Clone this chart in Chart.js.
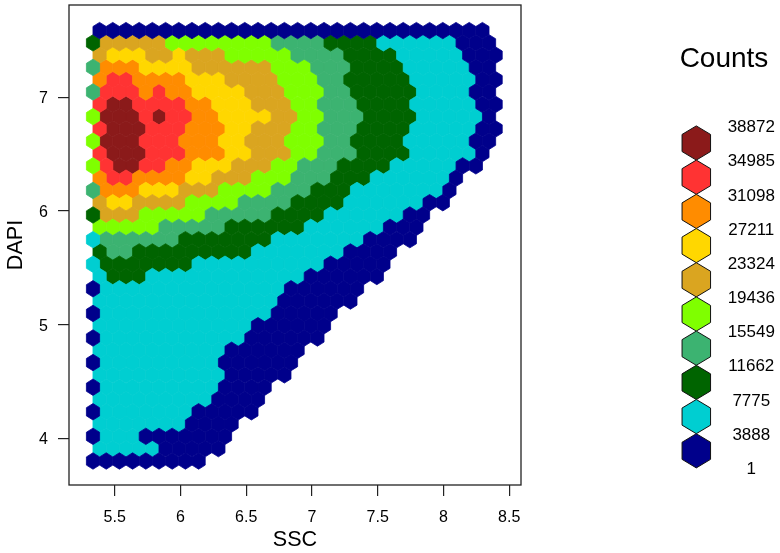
<!DOCTYPE html>
<html>
<head>
<meta charset="utf-8">
<style>
  html, body { margin: 0; padding: 0; background: #fff; }
  canvas { display: block; }
</style>
<script src="https://cdn.jsdelivr.net/npm/chart.js@4"></script>
</head>
<body>
<canvas id="hexChart" width="780" height="553"></canvas>
<script>
// legend, highest count first
const countLabels = ["38872", "34985", "31098", "27211", "23324", "19436", "15549", "11662", "7775", "3888", "1"];
const levelColors = ["#00008B", "#00CED1", "#006400", "#3CB371", "#7FFF00", "#DAA520", "#FFD700", "#FF8C00", "#FF3333", "#8B1A1A"];

const sscTicks = [5.5, 6, 6.5, 7, 7.5, 8, 8.5];
const dapiTicks = [4, 5, 6, 7];

// DAPI of each hexagon row, top to bottom
const dapiRows = [
  7.587, 7.479, 7.371, 7.263, 7.155, 7.047, 6.938, 6.83, 6.722, 6.614, 6.506, 6.397,
  6.289, 6.181, 6.073, 5.965, 5.857, 5.748, 5.64, 5.532, 5.424, 5.316, 5.208, 5.099,
  4.991, 4.883, 4.775, 4.667, 4.559, 4.45, 4.342, 4.234, 4.126, 4.018, 3.91, 3.801
];
// SSC of the first hexagon in long and offset rows, and the bin width
const sscFirstLong = 5.335;
const sscFirstOffset = 5.385;
const sscStep = 0.1004;

const rowRuns = [
  [[0,30]],
  [[2,1],[5,5],[4,8],[3,4],[2,4],[1,6],[0,3]],
  [[5,1],[6,3],[5,2],[6,1],[5,3],[4,5],[3,4],[2,4],[1,5],[0,3]],
  [[3,1],[7,3],[6,4],[5,6],[4,3],[3,3],[2,4],[1,5],[0,2]],
  [[7,1],[8,2],[7,4],[6,3],[5,4],[4,3],[3,2],[2,5],[1,5],[0,2]],
  [[3,1],[8,3],[7,1],[8,1],[7,2],[6,4],[5,3],[4,3],[3,2],[2,5],[1,4],[0,2]],
  [[8,1],[9,2],[8,4],[7,2],[6,3],[5,3],[4,2],[3,3],[2,4],[1,5],[0,2]],
  [[4,1],[9,3],[8,1],[9,1],[8,2],[7,2],[6,4],[5,2],[4,2],[3,3],[2,4],[1,5],[0,1]],
  [[8,1],[9,3],[8,3],[7,3],[6,2],[5,3],[4,2],[3,3],[2,4],[1,5],[0,2]],
  [[4,1],[9,3],[8,3],[7,3],[6,2],[5,3],[4,3],[3,2],[2,4],[1,5],[0,2]],
  [[8,1],[9,3],[8,3],[7,3],[6,2],[5,3],[4,2],[3,3],[2,4],[1,5],[0,1]],
  [[4,1],[8,1],[9,2],[8,2],[7,2],[6,3],[5,3],[4,2],[3,3],[2,4],[1,5],[0,2]],
  [[7,1],[8,2],[7,4],[6,2],[5,3],[4,3],[3,3],[2,3],[1,6],[0,1]],
  [[3,1],[7,3],[6,3],[5,3],[4,4],[3,3],[2,3],[1,7],[0,1]],
  [[5,1],[6,2],[5,4],[4,4],[3,4],[2,4],[1,6],[0,2]],
  [[2,1],[5,3],[4,5],[3,5],[2,4],[1,6],[0,2]],
  [[4,5],[3,5],[2,6],[1,6],[0,3]],
  [[1,1],[3,6],[2,7],[1,7],[0,4]],
  [[2,1],[3,2],[2,9],[1,7],[0,4]],
  [[1,1],[2,7],[1,10],[0,5]],
  [[1,1],[2,3],[1,12],[0,6]],
  [[0,1],[1,14],[0,6]],
  [[1,14],[0,6]],
  [[0,1],[1,13],[0,5]],
  [[1,12],[0,6]],
  [[0,1],[1,11],[0,6]],
  [[1,10],[0,6]],
  [[0,1],[1,9],[0,6]],
  [[1,10],[0,5]],
  [[0,1],[1,9],[0,4]],
  [[1,9],[0,4]],
  [[0,1],[1,7],[0,5]],
  [[1,7],[0,4]],
  [[0,1],[1,3],[0,7]],
  [[1,5],[0,5]],
  [[0,9]]
];

// pointy-top hexagon path
const hexPath = (ctx, x, y, w, h) => {
  ctx.beginPath();
  ctx.moveTo(x, y - h / 2);
  ctx.lineTo(x + w / 2, y - h / 4);
  ctx.lineTo(x + w / 2, y + h / 4);
  ctx.lineTo(x, y + h / 2);
  ctx.lineTo(x - w / 2, y + h / 4);
  ctx.lineTo(x - w / 2, y - h / 4);
  ctx.closePath();
};

// scatter controller whose points are hexagons
class HexElement extends Chart.PointElement {
  draw(ctx) {
    // thin same-colour stroke closes the seams between neighbours
    ctx.fillStyle = this.options.backgroundColor;
    ctx.strokeStyle = this.options.backgroundColor;
    ctx.lineWidth = 0.8;
    hexPath(ctx, this.x, this.y, 13.2, 16.4);
    ctx.fill();
    ctx.stroke();
  }
}
HexElement.id = "hexElement";
HexElement.defaults = { ...Chart.PointElement.defaults };

class HexController extends Chart.ScatterController {}
HexController.id = "hexbin";
HexController.defaults = { ...Chart.ScatterController.defaults, dataElementType: "hexElement" };
HexController.overrides = Chart.ScatterController.overrides;

Chart.register(HexElement, HexController);

const cellsByLevel = levelColors.map(() => []);
rowRuns.forEach((runs, row) => {
  let ssc = row % 2 ? sscFirstLong : sscFirstOffset;
  runs.forEach(([level, n]) => {
    for (let i = 0; i < n; i++) {
      cellsByLevel[level].push({ x: ssc, y: dapiRows[row] });
      ssc += sscStep;
    }
  });
});

const datasets = levelColors.map((color, i) => ({
  label: countLabels[countLabels.length - 1 - i],
  data: cellsByLevel[i],
  backgroundColor: color,
}));

// box round the plot, plus the hexagon key on the right
const boxAndKey = {
  id: "boxAndKey",
  afterDraw(chart) {
    const { ctx, chartArea: a } = chart;
    ctx.save();
    ctx.strokeStyle = "#222";
    ctx.lineWidth = 1.3;
    ctx.strokeRect(a.left, a.top, a.right - a.left, a.bottom - a.top);

    ctx.fillStyle = "#000";
    ctx.textAlign = "center";
    ctx.textBaseline = "middle";
    ctx.font = '28px "Liberation Sans"';
    ctx.fillText("Counts", 724, 59);

    [...levelColors].reverse().forEach((color, i) => {
      hexPath(ctx, 696.3, 143 + 34.2 * i, 28.5, 34.2);
      ctx.fillStyle = color;
      ctx.fill();
      ctx.strokeStyle = "#111";
      ctx.lineWidth = 1;
      ctx.stroke();
    });
    ctx.fillStyle = "#000";
    ctx.font = '17px "Liberation Sans"';
    countLabels.forEach((txt, i) => {
      ctx.fillText(txt, 751.3, 127.5 + 34.17 * i);
    });
    ctx.restore();
  },
};

new Chart(document.getElementById("hexChart"), {
  type: "hexbin",
  data: { datasets },
  options: {
    responsive: false,
    animation: false,
    devicePixelRatio: 1,
    layout: { padding: { top: 5, right: 259, left: 0, bottom: 0 } },
    plugins: { legend: { display: false }, tooltip: { enabled: false } },
    scales: {
      x: {
        type: "linear",
        min: 5.1525,
        max: 8.59,
        afterFit: (s) => { s.height = 68; s.paddingLeft = 0; s.paddingRight = 0; },
        afterBuildTicks: (s) => { s.ticks = sscTicks.map((value) => ({ value })); },
        grid: { drawOnChartArea: false, color: "#222", tickLength: 11, lineWidth: 1.2 },
        border: { display: false },
        ticks: { color: "#000", padding: 12, maxRotation: 0, autoSkip: false, font: { family: "Liberation Sans", size: 16 }, callback: (v) => String(v) },
        title: { display: true, text: "SSC", color: "#000", padding: { top: -1, bottom: 0 }, font: { family: "Liberation Sans", size: 21.6 } },
      },
      y: {
        type: "linear",
        min: 3.59,
        max: 7.812,
        afterFit: (s) => { s.width = 69; s.paddingTop = 0; s.paddingBottom = 0; },
        afterBuildTicks: (s) => { s.ticks = dapiTicks.map((value) => ({ value })); },
        grid: { drawOnChartArea: false, color: "#222", tickLength: 11, lineWidth: 1.2 },
        border: { display: false },
        ticks: { color: "#000", padding: 10, labelOffset: 1.5, autoSkip: false, font: { family: "Liberation Sans", size: 16 }, callback: (v) => String(v) },
        title: { display: true, text: "DAPI", color: "#000", padding: { top: 3, bottom: 0 }, font: { family: "Liberation Sans", size: 21.6 } },
      },
    },
  },
  plugins: [boxAndKey],
});
</script>
</body>
</html>
